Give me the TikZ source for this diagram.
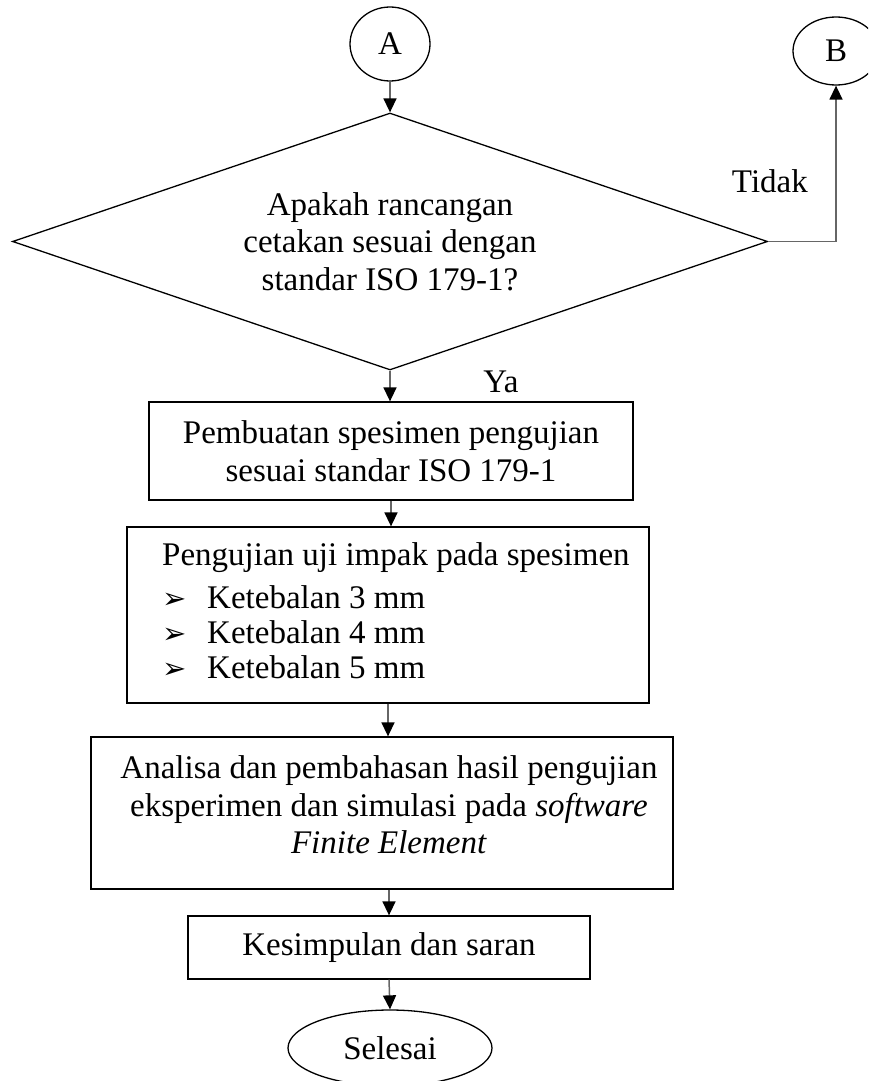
\documentclass[tikz,border=0pt]{standalone}
\usepackage{fontspec}
\setmainfont{Liberation Serif}
\newfontfamily\symfont{DejaVu Sans}
\usetikzlibrary{shapes.geometric,arrows.meta}
\begin{document}
\begin{tikzpicture}[x=1pt,y=-1pt,
  every node/.style={font=\fontsize{33}{37.5}\selectfont},
  box/.style={draw, line width=1.3pt, rectangle, inner sep=0pt, align=center},
  term/.style={draw, line width=1.3pt, ellipse, inner sep=0pt},
  dec/.style={draw, line width=1.3pt, diamond, aspect=2.94, inner sep=0pt, align=center},
  flow/.style={draw=black!60, line width=1.5pt, -{Triangle[black,width=13pt,length=14pt]}},
  lbl/.style={inner sep=0pt},
  bul/.style={inner sep=0pt, anchor=base west, text height=16pt, text depth=0pt, font=\symfont\fontsize{29}{29}\selectfont}]
\useasboundingbox (0,0) rectangle (868,1081);
\clip (0,0) rectangle (868,1081);

\node[term, minimum width=80pt, minimum height=74pt] (A) at (390,44) {A};
\node[dec, minimum width=755pt, minimum height=257pt] (d) at (390,241.5) {Apakah rancangan\\cetakan sesuai dengan\\standar ISO 179-1?};
\node[term, minimum width=86pt, minimum height=68pt] (B) at (836,51) {B};
\node[box, minimum width=484pt, minimum height=98pt] (b1) at (391,451) {Pembuatan spesimen pengujian\\sesuai standar ISO 179-1};
\node[box, minimum width=522pt, minimum height=176pt] (b2) at (388,615) {};
\node[lbl, anchor=base west] (p0) at (162,565) {Pengujian uji impak pada spesimen};
\node[bul] (m1) at (162,608) {➢};
\node[lbl, anchor=base west] (k1) at (207,608) {Ketebalan 3 mm};
\node[bul] (m2) at (162,643) {➢};
\node[lbl, anchor=base west] (k2) at (207,643) {Ketebalan 4 mm};
\node[bul] (m3) at (162,678) {➢};
\node[lbl, anchor=base west] (k3) at (207,678) {Ketebalan 5 mm};
\node[box, minimum width=582pt, minimum height=152pt] (b3) at (382,813) {};
\node[lbl, align=center] (b3t) at (389,805) {Analisa dan pembahasan hasil pengujian\\eksperimen dan simulasi pada \textit{software}\\\textit{Finite Element}};
\node[box, minimum width=402pt, minimum height=63pt] (b4) at (389,947.5) {Kesimpulan dan saran};
\node[term, minimum width=204pt, minimum height=76pt] (sel) at (390,1048) {Selesai};

\node[lbl, anchor=base] (ya) at (501,392) {Ya};
\node[lbl, anchor=base east] (tidak) at (808,192) {Tidak};

\draw[flow] (A.south) -- (d.north);
\draw[flow] (d.south) -- (d.south |- b1.north);
\draw[flow] (b1.south) -- (b1.south |- b2.north);
\draw[flow] (b2.south) -- (b2.south |- b3.north);
\draw[flow] (b3.south -| b4.north) -- (b4.north);
\draw[flow] (b4.south) -- (sel.north);
\draw[flow] (d.east) -| (B.south);
\end{tikzpicture}
\end{document}
